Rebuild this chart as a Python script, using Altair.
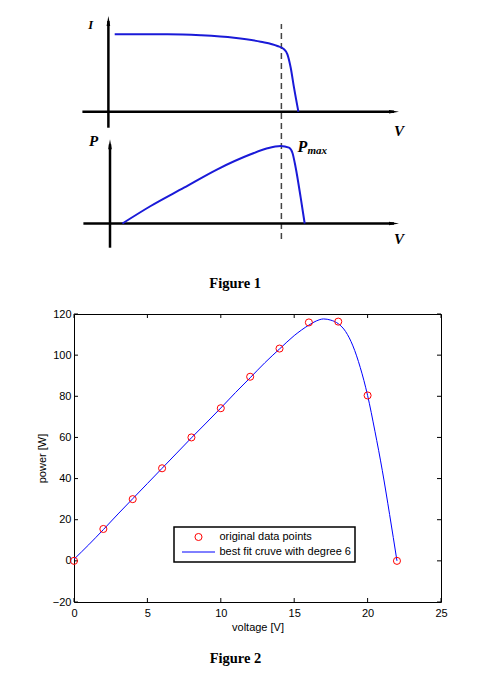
import altair as alt
import pandas as pd

# ---------------- Figure 1 (schematic I-V and P-V curves) ----------------
iv_v = [11.09, 25.45, 34.5, 43.6, 50.87, 55.42, 57.22, 58.15, 59.05, 59.95, 61.14]
iv_i = [93.0, 93.0, 92.66, 91.83, 90.45, 88.97, 87.83, 86.1, 81.48, 74.59, 66.31]
pv_v = [13.19, 20.9, 29.97, 39.07, 48.15, 52.7, 56.32, 58.58, 59.51, 60.41, 61.77, 62.86]
pv_p = [27.76, 33.79, 40.1, 46.45, 51.62, 53.69, 54.48, 53.9, 52.17, 47.0, 36.66, 27.76]

# vertical axes (I and P) and horizontal axes (V, V)
vax_x = [9.37, 9.81]
vax_lo = [60.79, 19.41]
vax_hi = [97.6, 55.07]
hax_y = [66.31, 27.76]
hax_lo = [2.29, 2.56]
hax_hi = [87.2, 87.2]

mpp_v = [56.51]
mpp_lo = [22.41]
mpp_hi = [96.55]

lab_text = ["V", "P", "V"]
lab_x = [88.56, 5.31, 88.56]
lab_y = [57.93, 54.48, 20.79]
ilab_text = ["I"]
ilab_x = [4.58]
ilab_y = [94.72]

pmax_text = ["P"]
pmax_x = [60.87]
pmax_y = [52.41]
sub_text = ["max"]
sub_x = [63.6]
sub_y = [51.62]

cap1_text = ["Figure 1"]
cap1_x = [43.92]
cap1_y = [5.52]

# ---------------- Figure 2 (power vs voltage) ----------------
volt_pts = [0, 2, 4, 6, 8, 10, 12, 14, 16, 18, 20, 22]
power_pts = [0, 15.5, 30, 45, 60, 74.2, 89.5, 103.2, 115.9, 116.3, 80.4, 0]

fit_v = [0, 1, 2, 3, 4, 5, 6, 7, 8, 9, 10, 11, 12, 13, 14, 15, 16, 16.5, 17,
         17.5, 18, 18.5, 19, 19.5, 20, 20.5, 21, 21.5, 22]
fit_p = [0.8, 7.8, 15.2, 22.8, 30.2, 37.6, 45, 52.4, 59.8, 67, 74.3, 81.8, 89,
         96.3, 103, 109.5, 114.6, 116.6, 117.6, 117.0, 115.3, 111.5, 104.5, 94,
         80.4, 63, 44, 22.5, 0]

x_ticks = [0, 5, 10, 15, 20, 25]
y_ticks = [-20, 0, 20, 40, 60, 80, 100, 120]

series_names = ["original data points", "best fit cruve with degree 6"]

# ===================== build figure 1 =====================
W1, H1 = 367, 290
sx1 = alt.Scale(domain=[0, 100], nice=False, zero=False)
sy1 = alt.Scale(domain=[0, 100], nice=False, zero=False)
SERIF = "Liberation Serif"
CURVE_BLUE = "#1a1ad8"
UP = "M0,-1L0.36,1L-0.36,1Z"
RIGHT = "M1,0L-1,0.36L-1,-0.36Z"

iv_df = pd.DataFrame({"v": iv_v, "i": iv_i})
pv_df = pd.DataFrame({"v": pv_v, "p": pv_p})
vax_df = pd.DataFrame({"x": vax_x, "lo": vax_lo, "hi": vax_hi})
hax_df = pd.DataFrame({"y": hax_y, "lo": hax_lo, "hi": hax_hi})
mpp_df = pd.DataFrame({"v": mpp_v, "lo": mpp_lo, "hi": mpp_hi})
lab_df = pd.DataFrame({"t": lab_text, "x": lab_x, "y": lab_y})
ilab_df = pd.DataFrame({"t": ilab_text, "x": ilab_x, "y": ilab_y})
pmax_df = pd.DataFrame({"t": pmax_text, "x": pmax_x, "y": pmax_y})
sub_df = pd.DataFrame({"t": sub_text, "x": sub_x, "y": sub_y})
cap1_df = pd.DataFrame({"t": cap1_text, "x": cap1_x, "y": cap1_y})


def X1(f):
    return alt.X(f, scale=sx1, axis=None)


def Y1(f):
    return alt.Y(f, scale=sy1, axis=None)


vaxes = alt.Chart(vax_df).mark_rule(color="black", strokeWidth=2.5).encode(
    x=X1("x:Q"), y=Y1("lo:Q"), y2="hi:Q")
haxes = alt.Chart(hax_df).mark_rule(color="black", strokeWidth=2.5).encode(
    y=Y1("y:Q"), x=X1("lo:Q"), x2="hi:Q")
up_arrows = alt.Chart(vax_df).mark_point(filled=True, color="black", opacity=1, size=100,
                                         strokeWidth=0, shape=UP).encode(
    x=X1("x:Q"), y=Y1("hi:Q"))
right_arrows = alt.Chart(hax_df).mark_point(filled=True, color="black", opacity=1, size=100,
                                            strokeWidth=0, shape=RIGHT).encode(
    x=X1("hi:Q"), y=Y1("y:Q"))
mpp_line = alt.Chart(mpp_df).mark_rule(color="#444444", strokeWidth=1.5, strokeDash=[6, 4]).encode(
    x=X1("v:Q"), y=Y1("lo:Q"), y2="hi:Q")
iv_line = alt.Chart(iv_df).mark_line(color=CURVE_BLUE, strokeWidth=2, interpolate="monotone").encode(
    x=X1("v:Q"), y=Y1("i:Q"))
pv_line = alt.Chart(pv_df).mark_line(color=CURVE_BLUE, strokeWidth=2, interpolate="monotone").encode(
    x=X1("v:Q"), y=Y1("p:Q"))


def label_layer(df, size, align):
    return alt.Chart(df).mark_text(font=SERIF, fontStyle="italic", fontWeight="bold", fontSize=size,
                                   color="black", align=align, baseline="alphabetic").encode(
        x=X1("x:Q"), y=Y1("y:Q"), text="t:N")


labels = label_layer(lab_df, 15, "center")
ilabel = label_layer(ilab_df, 12.5, "center")
pmax_lab = label_layer(pmax_df, 16, "left")
sub_lab = label_layer(sub_df, 11, "left")
cap1 = alt.Chart(cap1_df).mark_text(font=SERIF, fontWeight="bold", fontSize=14.5,
                                    color="black", align="center", baseline="alphabetic").encode(
    x=X1("x:Q"), y=Y1("y:Q"), text="t:N")

fig1 = alt.layer(mpp_line, vaxes, haxes, up_arrows, right_arrows, iv_line, pv_line,
                 labels, ilabel, pmax_lab, sub_lab, cap1).properties(
    width=W1, height=H1, view=alt.ViewBackground(stroke="transparent")
)

# ===================== build figure 2 =====================
W2, H2 = 367, 288
SANS = "Liberation Sans"
sx2 = alt.Scale(domain=[0, 25], nice=False, zero=False)
sy2 = alt.Scale(domain=[-20, 120], nice=False, zero=False)

xaxis = alt.Axis(values=x_ticks, title="voltage [V]", ticks=False, tickSize=0, domain=False, grid=False,
                 labelFont=SANS, labelFontSize=11, labelColor="black", labelPadding=5,
                 labelFlush=False, titleFont=SANS, titleFontSize=11, titleFontWeight="normal",
                 titleColor="black", titlePadding=3)
yaxis = alt.Axis(values=y_ticks, title="power [W]", ticks=False, tickSize=0, domain=False, grid=False,
                 labelFont=SANS, labelFontSize=11, labelColor="black", labelPadding=3,
                 labelFlush=False, titleFont=SANS, titleFontSize=11, titleFontWeight="normal",
                 titleColor="black", titlePadding=5)

fit_df = pd.DataFrame({"v": fit_v, "p": fit_p})
pts_df = pd.DataFrame({"v": volt_pts, "p": power_pts, "series": series_names[0]})
xt_df = pd.DataFrame({"t": x_ticks})
yt_df = pd.DataFrame({"t": y_ticks})

leg = alt.Legend(orient="none", legendX=100, legendY=213, title=None,
                 strokeColor="black", fillColor="white", padding=4,
                 clipHeight=12, symbolOffset=3.5,
                 labelFont=SANS, labelFontSize=11, labelColor="black", labelOffset=4,
                 symbolStrokeWidth=1, symbolFillColor="transparent", rowPadding=3)

fit_line = alt.Chart(fit_df).mark_line(color="#0000ff", strokeWidth=1, interpolate="monotone").encode(
    x=alt.X("v:Q", scale=sx2, axis=xaxis),
    y=alt.Y("p:Q", scale=sy2, axis=yaxis),
)
pts = alt.Chart(pts_df).mark_point(filled=False, strokeWidth=1, opacity=1).encode(
    x=alt.X("v:Q", scale=sx2, axis=xaxis),
    y=alt.Y("p:Q", scale=sy2, axis=yaxis),
    color=alt.Color("series:N", legend=leg,
                    scale=alt.Scale(domain=series_names, range=["#ff0000", "#0000ff"])),
    shape=alt.Shape("series:N", legend=leg,
                    scale=alt.Scale(domain=series_names, range=["circle", "stroke"])),
    size=alt.Size("series:N", legend=leg,
                  scale=alt.Scale(domain=series_names, range=[50, 1089])),
)
tick_b = alt.Chart(xt_df).mark_rule(color="black", strokeWidth=1).encode(
    x=alt.X("t:Q", scale=sx2, axis=xaxis), y=alt.value(H2), y2=alt.value(H2 - 4))
tick_t = alt.Chart(xt_df).mark_rule(color="black", strokeWidth=1).encode(
    x=alt.X("t:Q", scale=sx2, axis=xaxis), y=alt.value(0), y2=alt.value(4))
tick_l = alt.Chart(yt_df).mark_rule(color="black", strokeWidth=1).encode(
    y=alt.Y("t:Q", scale=sy2, axis=yaxis), x=alt.value(0), x2=alt.value(4))
tick_r = alt.Chart(yt_df).mark_rule(color="black", strokeWidth=1).encode(
    y=alt.Y("t:Q", scale=sy2, axis=yaxis), x=alt.value(W2), x2=alt.value(W2 - 4))

fig2 = alt.layer(tick_b, tick_t, tick_l, tick_r, fit_line, pts).properties(
    width=W2, height=H2,
    view=alt.ViewBackground(stroke="black", strokeWidth=1),
    title=alt.TitleParams("Figure 2", orient="bottom", anchor="middle", frame="group",
                          font=SERIF, fontWeight="bold", fontSize=14.5, color="black",
                          offset=20, dx=-22),
)

chart = alt.vconcat(fig1, fig2, spacing=2).resolve_scale(
    color="independent", shape="independent", size="independent"
).resolve_legend(
    color="independent", shape="independent", size="independent"
).properties(
    padding={"left": 27, "top": 5, "right": 5, "bottom": 2},
    background="white",
).configure(font=SANS).configure_legend(strokeWidth=1.5)

chart.save("out.html", embed_options={"renderer": "svg", "actions": False})
